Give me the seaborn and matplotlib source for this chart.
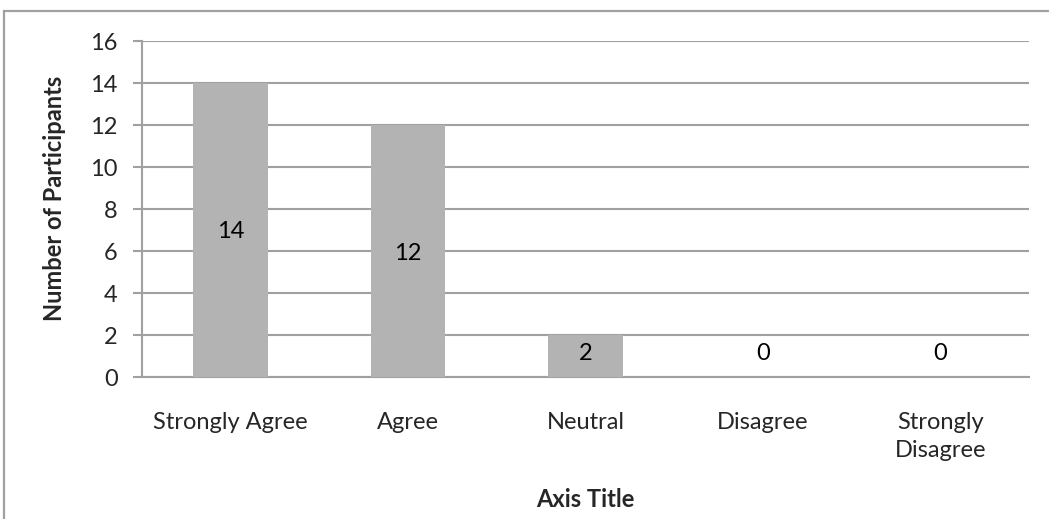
import matplotlib
matplotlib.use("Agg")
import matplotlib.pyplot as plt
import matplotlib.patches as mpatches
import seaborn as sns
import pandas as pd

# Survey responses
categories = ["Strongly Agree", "Agree", "Neutral", "Disagree", "Strongly\nDisagree"]
participants = [14, 12, 2, 0, 0]
y_ticks = [0, 2, 4, 6, 8, 10, 12, 14, 16]

df = pd.DataFrame({"Response": categories, "Participants": participants})

sns.set_style("white")
plt.rcParams["font.family"] = ["Lato", "DejaVu Sans"]

GRID = "#a0a0a0"
BAR = "#b3b3b3"
FS = 17

fig = plt.figure(figsize=(10.49, 5.19), dpi=100)
ax = fig.add_axes([142 / 1049, 1 - 377 / 519, 887 / 1049, 336 / 519])

sns.barplot(data=df, x="Response", y="Participants", color=BAR,
            width=0.42, saturation=1, linewidth=0, ax=ax, zorder=3)

ax.set_ylim(0, 16)
ax.set_xlim(-0.5, len(categories) - 0.5)
ax.set_yticks(y_ticks)
ax.set_yticklabels([str(t) for t in y_ticks], fontsize=FS)
ax.yaxis.grid(True, color=GRID, linewidth=1.5, zorder=0)
ax.set_axisbelow(True)

# category labels under each bar, boundary ticks between categories
ax.set_xticks(range(len(categories)))
ax.set_xticklabels(categories, fontsize=FS, va="top", linespacing=1.45)
ax.tick_params(axis="x", which="major", length=0, pad=25)
ax.set_xticks([i - 0.5 for i in range(len(categories) + 1)], minor=True)
ax.tick_params(axis="x", which="minor", length=5, width=1.5, color=GRID, direction="out")
ax.tick_params(axis="y", length=6.5, width=1.5, color=GRID, direction="out", pad=11, left=True)

for side in ["top", "right"]:
    ax.spines[side].set_visible(False)
for side in ["left", "bottom"]:
    ax.spines[side].set_color(GRID)
    ax.spines[side].set_linewidth(1.5)

# value labels in the middle of each bar
for i, v in enumerate(participants):
    ax.text(i, max(v / 2, 1.2), str(v), ha="center", va="center_baseline",
            fontsize=FS, color="black", zorder=4)

ax.set_xlabel("Axis Title", fontsize=FS, fontweight="bold", va="center")
ax.xaxis.set_label_coords(0.5, (377 - 500) / 336)
ax.set_ylabel("Number of Participants", fontsize=FS, fontweight="bold", va="center")
ax.yaxis.set_label_coords((55 - 142) / 887, (377 - 198) / 336)

# chart area border
fig.patches.append(mpatches.Rectangle((4 / 1049, -0.1), 1.2, 0.1 + 1 - 11 / 519,
                                      transform=fig.transFigure, fill=False,
                                      edgecolor=GRID, linewidth=1.6))

fig.savefig("out.png", dpi=100)
